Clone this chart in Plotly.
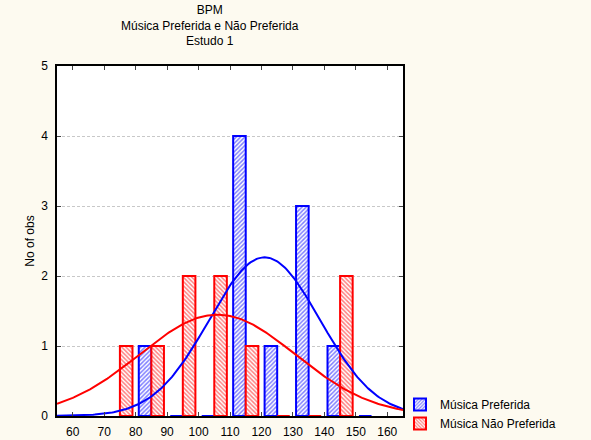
import numpy as np
import plotly.graph_objects as go

# Histogram bins (BPM) and counts per group
bins = [80, 90, 100, 110, 120, 130, 140, 150]
preferida = [1, 0, 0, 4, 1, 3, 1, 0]
nao_preferida = [1, 1, 2, 2, 1, 0, 0, 2]

# Fitted normal parameters (mean, sd) and bin width for expected counts
fit_preferida = (121.0, 17.6)
fit_nao_preferida = (106.0, 24.8)
bin_width = 10

x_ticks = list(range(60, 161, 10))
y_ticks = [0, 1, 2, 3, 4, 5]

BLUE = "#0000ff"
RED = "#ff0000"
FONT = "Liberation Sans, Arial, sans-serif"

W, H = 591, 440
M = dict(l=57, r=188, t=66, b=24)
PH = H - M["t"] - M["b"]
PW = W - M["l"] - M["r"]


def normal_curve(counts, params, xs):
    mu, sd = params
    n = sum(counts)
    return n * bin_width * np.exp(-0.5 * ((xs - mu) / sd) ** 2) / (sd * np.sqrt(2 * np.pi))


xs = np.linspace(55, 165, 221)

fig = go.Figure()

fig.add_trace(go.Bar(
    x=bins, y=preferida, name="Música Preferida",
    width=4, offset=1,
    marker=dict(color="white", line=dict(color=BLUE, width=2),
                pattern=dict(shape="/", fgcolor=BLUE, bgcolor="white", size=3, solidity=0.5)),
))
fig.add_trace(go.Bar(
    x=bins, y=nao_preferida, name="Música Não Preferida",
    width=4, offset=-5,
    marker=dict(color="white", line=dict(color=RED, width=2),
                pattern=dict(shape="\\", fgcolor=RED, bgcolor="white", size=3, solidity=0.5)),
))
fig.add_trace(go.Scatter(
    x=xs, y=normal_curve(preferida, fit_preferida, xs), mode="lines",
    line=dict(color=BLUE, width=2), showlegend=False, hoverinfo="skip",
))
fig.add_trace(go.Scatter(
    x=xs, y=normal_curve(nao_preferida, fit_nao_preferida, xs), mode="lines",
    line=dict(color=RED, width=2), showlegend=False, hoverinfo="skip",
))

fig.update_layout(
    width=W, height=H,
    margin=dict(**M, autoexpand=False),
    paper_bgcolor="#fdfaf0",
    plot_bgcolor="white",
    barmode="overlay",
    font=dict(family=FONT, size=12, color="black"),
    legend=dict(
        x=(400 - M["l"]) / PW, xanchor="left",
        y=(416 - 390) / PH, yanchor="top", yref="paper",
        bgcolor="rgba(0,0,0,0)", font=dict(size=12),
        tracegroupgap=0, itemwidth=30,
    ),
    showlegend=True,
    annotations=[dict(
        text="BPM<br>Música Preferida e Não Preferida<br>Estudo 1",
        xref="paper", yref="paper",
        x=(210 - M["l"]) / PW, xanchor="center",
        y=1 + (M["t"] - 1) / PH, yanchor="top",
        showarrow=False, font=dict(family=FONT, size=12, color="black"),
    )],
)

fig.update_xaxes(
    range=[55, 165], tickvals=x_ticks, ticks="inside", ticklen=4,
    showline=True, linecolor="black", linewidth=1.5, mirror="ticks",
    showgrid=False, zeroline=False, tickfont=dict(size=12),
    ticklabelstandoff=4,
)
fig.update_yaxes(
    range=[0, 5], tickvals=y_ticks, ticks="inside", ticklen=4,
    showline=True, linecolor="black", linewidth=1.5, mirror="ticks",
    showgrid=True, gridcolor="#c8c8c8", griddash="3px,2px", gridwidth=1,
    zeroline=False, tickfont=dict(size=12), ticklabelstandoff=5,
    title=dict(text="No of obs", font=dict(size=12), standoff=4),
)

fig.write_html("out.html")
